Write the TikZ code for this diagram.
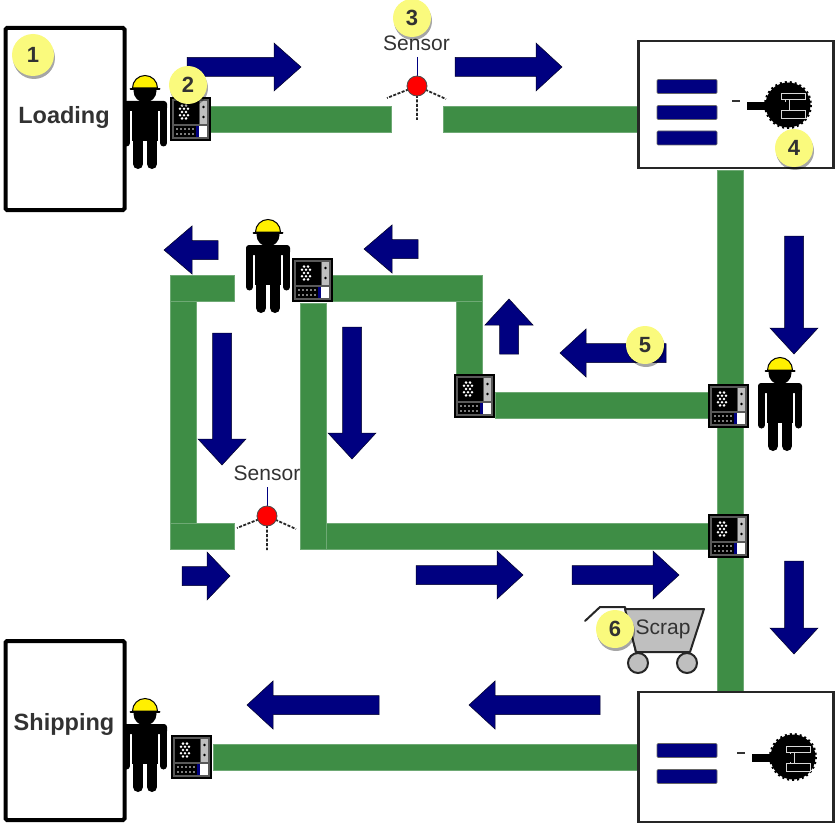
\documentclass[tikz,border=0pt]{standalone}
\usepackage{fontspec}
\setmainfont{Liberation Sans}
\usepackage{xcolor}
\usetikzlibrary{shadows}
\definecolor{beltgreen}{RGB}{62,141,69}
\definecolor{flowblue}{RGB}{0,0,128}
\definecolor{hatyellow}{RGB}{255,240,0}
\definecolor{badgeyellow}{RGB}{250,250,125}
\definecolor{labelgray}{RGB}{50,50,50}
\tikzset{
	pics/flow/.style n args={2}{code={
		\fill[flowblue, draw=black!70!flowblue, line width=0.5pt] (0,-9.5) -- (#1-#2,-9.5) -- (#1-#2,-24) -- (#1,0) -- (#1-#2,24) -- (#1-#2,9.5) -- (0,9.5) -- cycle;
	}},
	pics/worker/.style={code={
		\fill[black] (0,16) circle (11.5);
		\fill[hatyellow, draw=black, line width=1pt] (-12.5,13) arc[start angle=180, end angle=360, radius=12.5] -- cycle;
		\draw[black, line width=2pt, line cap=round] (-14.5,14) -- (14.5,14);
		\fill[black, rounded corners=3pt] (-22,26) rectangle (22,36);
		\draw[black, line width=7pt, line cap=round] (-18.5,30) -- (-18.5,68) (18.5,30) -- (18.5,68);
		\fill[black] (-13,28) rectangle (13,66);
		\draw[black, line width=10pt, line cap=round] (-7,60) -- (-7,89) (7,60) -- (7,89);
	}},
	pics/panel/.style={code={
		\fill[black!65, draw=black, line width=1.2pt] (0,0) rectangle (39,42);
		\fill[black] (3,3) rectangle (28,26);
		\fill[black!25] (29,3) rectangle (36,26);
		\fill[black] (3,28) rectangle (26,39);
		\fill[flowblue] (25,28) rectangle (28,39);
		\fill[white] (28,28) rectangle (36,39);
		\foreach \dotx in {6,10,...,22} {
			\fill[white] (\dotx,31) circle (0.8);
			\fill[white] (\dotx,36) circle (0.8);
		}
		\foreach \doty in {9,19} {\fill[black] (32.5,\doty) circle (1.4);}
		\foreach \dota/\dotb in {-2/0,2/0,-4/4,0/4,4/4,-2/8,2/8,-4/-4,0/-4,4/-4,-2/-8,2/-8} {
			\fill[white] (13+\dota,14+\dotb*0.8) circle (1.4);
		}
	}},
	pics/robot/.style={code={
		\fill[black] (0,0) circle (22.5);
		\draw[black, line width=2pt, dash pattern=on 2pt off 3pt] (0,0) circle (23);
		\fill[black!80] (-56,-5) rectangle (-48,-3);
		\fill[black, draw=black!15, line width=1pt] (-7,-11) rectangle (17,-5);
		\fill[black, draw=black!15, line width=1pt] (-7,6) rectangle (17,14);
		\fill[black, draw=black!15, line width=1pt] (-3,-5) rectangle (1,6);
		\fill[black] (-41,-3) rectangle (0,5);
	}},
	pics/probe/.style={code={
		\draw[flowblue, line width=1pt] (0,-29) -- (0,-8);
		\draw[black!85, line width=1.8pt, dash pattern=on 3pt off 1.5pt] (0,0) -- (-30,12) (0,0) -- (29,13) (0,0) -- (0,34);
		\fill[red, draw=black!70, line width=0.8pt] (0,0) circle (10);
	}},
	dock/.style={draw=black, fill=white, line width=4pt, rounded corners=1.5pt, inner sep=0pt},
	cell/.style={draw=black!85, fill=white, line width=2.5pt, inner sep=0pt},
	bar/.style={fill=flowblue, draw=black!60, line width=0.6pt, rounded corners=1pt, minimum width=60pt, minimum height=14pt, inner sep=0pt},
	docktext/.style={font=\fontsize{23.5}{28}\bfseries\selectfont, text=labelgray, inner sep=0pt},
	tag/.style={font=\fontsize{21}{24}\selectfont, text=labelgray, inner sep=0pt},
	badge/.style={circle, fill=badgeyellow, minimum size=38pt, inner sep=0pt, font=\fontsize{22}{24}\bfseries\selectfont, text=labelgray, drop shadow={shadow xshift=1pt, shadow yshift=-3pt, fill=black, opacity=0.35}},
	belt/.style={fill=beltgreen, draw=beltgreen!75!white, line width=0.5pt}
}
\begin{document}
\begin{tikzpicture}[x=1pt, y=-1pt]
	\useasboundingbox (0,0) rectangle (835,824);
	% Conveyor belts
	\fill[belt] (210,106) rectangle (391,132);
	\fill[belt] (443,106) rectangle (640,132);
	\fill[belt] (717,170) rectangle (743,692);
	\fill[belt] (495,392) rectangle (717,418);
	\fill[belt] (326,523) rectangle (717,549);
	\fill[belt] (300,303) rectangle (326,549);
	\fill[belt] (330,275) rectangle (482,301);
	\fill[belt] (456,301) rectangle (482,392);
	\fill[belt] (170,275) rectangle (234,301);
	\fill[belt] (170,301) rectangle (196,523);
	\fill[belt] (170,523) rectangle (234,549);
	\fill[belt] (213,744) rectangle (640,770);

	% Flow arrows
	\pic at (187,67) {flow={114}{27}};
	\pic at (455,67) {flow={107}{26}};
	\pic[rotate=-90] at (794,236) {flow={118}{26}};
	\pic[rotate=180] at (218,250) {flow={54}{28}};
	\pic[rotate=180] at (418,249) {flow={54}{28}};
	\pic[rotate=90] at (509,354) {flow={55}{26}};
	\pic[rotate=180] at (666,353) {flow={106}{26}};
	\pic[rotate=-90] at (222,333) {flow={132}{26}};
	\pic[rotate=-90] at (352,327) {flow={132}{26}};
	\pic at (182,576) {flow={48}{23}};
	\pic at (416,575) {flow={107}{26}};
	\pic at (572,575) {flow={107}{26}};
	\pic[rotate=-90] at (794,561) {flow={93}{26}};
	\pic[rotate=180] at (379,705) {flow={132}{26}};
	\pic[rotate=180] at (600,705) {flow={131}{26}};

	% Operators and control panels
	\pic at (145,75) {worker};
	\pic at (268,219) {worker};
	\pic at (780,357) {worker};
	\pic at (145,698) {worker};
	\pic at (171,98) {panel};
	\pic at (293,259) {panel};
	\pic at (455,375) {panel};
	\pic at (709,385) {panel};
	\pic at (709,515) {panel};
	\pic at (172,736) {panel};

	% Docks
	\node[dock, minimum width=119pt, minimum height=182pt] (loading) at (65,119) {};
	\node[dock, minimum width=119pt, minimum height=179pt] (shipping) at (65,730.5) {};
	\node[docktext] (loadingtext) at (64,117) {Loading};
	\node[docktext] (shippingtext) at (64,724) {Shipping};

	% Work cells
	\node[cell, minimum width=195pt, minimum height=127pt] (celltop) at (736,104.5) {};
	\node[cell, minimum width=195pt, minimum height=130pt] (cellbottom) at (736,757) {};
	\foreach \bary [count=\bari] in {86.5,112.5,138} {
		\node[bar] (topbar\bari) at (687,\bary) {};
	}
	\foreach \bary [count=\bari] in {750.5,776.5} {
		\node[bar] (bottombar\bari) at (687,\bary) {};
	}
	\pic at (788,105) {robot};
	\pic at (793,757) {robot};

	% Sensors
	\pic at (417,86) {probe};
	\pic at (267,516) {probe};
	\node[tag] (sensortop) at (416.5,43) {Sensor};
	\node[tag] (sensorloop) at (267,473) {Sensor};

	% Scrap cart
	\draw[black!85, line width=2pt, line cap=round, line join=round] (585,621) -- (600,607) -- (625,607) -- (636,652);
	\fill[black!25, draw=black!85, line width=2pt, line join=round] (625,609) -- (704,609) -- (690,652) -- (636,652) -- cycle;
	\foreach \wheelx in {638,687} {
		\fill[black!25, draw=black!85, line width=2pt] (\wheelx,663) circle (10);
	}
	\node[tag] (scrap) at (663,629) {Scrap};

	% Numbered badges
	\node[badge, minimum size=42pt] (one) at (33,55) {1};
	\node[badge] (two) at (188,85) {2};
	\node[badge] (three) at (412,18) {3};
	\node[badge] (four) at (794,148) {4};
	\node[badge] (five) at (645,345) {5};
	\node[badge] (six) at (615,629) {6};
\end{tikzpicture}
\end{document}
